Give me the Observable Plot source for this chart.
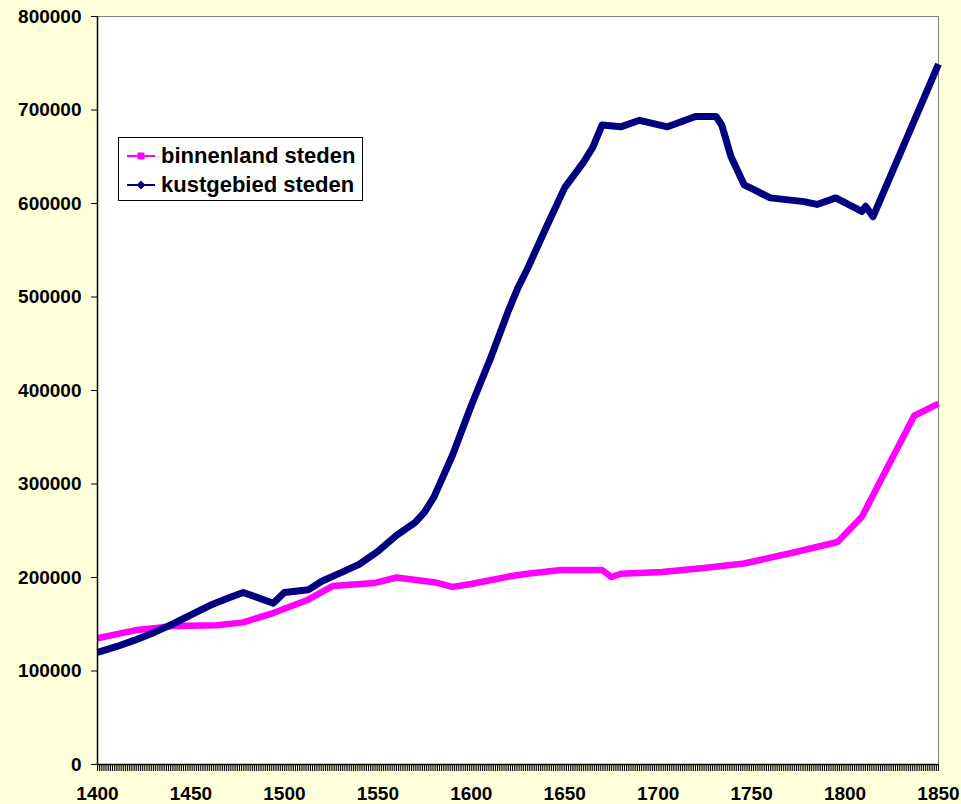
<!DOCTYPE html>
<html>
<head>
<meta charset="utf-8">
<script src="https://cdn.jsdelivr.net/npm/d3@7"></script>
<script src="https://cdn.jsdelivr.net/npm/@observablehq/plot@0.6"></script>
<style>
  html, body { margin: 0; padding: 0; background: #FFFFD9; }
  #wrap { position: relative; width: 961px; height: 804px; background: #FFFFD9; font-family: "Liberation Sans", Arial, sans-serif; }
  #legend { position: absolute; left: 118px; top: 137px; width: 243px; height: 62px; background: #fff; border: 1px solid #000; }
  .row { position: absolute; left: 0; height: 28px; display: flex; align-items: center; font-weight: bold; font-size: 22px; color: #000; white-space: nowrap; }
  .row svg { margin-left: 8px; margin-right: 6px; }
</style>
</head>
<body>
<div id="wrap">
  <div id="chart"></div>
  <div id="legend">
    <div class="row" style="top:4px">
      <svg width="28" height="12"><line x1="0" y1="6" x2="28" y2="6" stroke="#FF00FF" stroke-width="2"/><rect x="10.5" y="2.5" width="7" height="7" fill="#FF00FF"/></svg>binnenland steden
    </div>
    <div class="row" style="top:33px">
      <svg width="28" height="12"><line x1="0" y1="6" x2="28" y2="6" stroke="#000080" stroke-width="2"/><polygon points="14,1.5 18.5,6 14,10.5 9.5,6" fill="#000080"/></svg>kustgebied steden
    </div>
  </div>
</div>
<script>
// binnenland steden (inland cities)
const binnenYears  = [1400, 1420, 1440, 1464, 1478, 1494, 1512, 1526, 1548, 1560, 1580, 1590, 1600, 1610, 1620, 1630, 1648, 1670, 1675, 1680, 1702, 1723, 1746, 1773, 1796, 1809, 1837, 1850];
const binnenValues = [135000, 143500, 148000, 149000, 152000, 162000, 175600, 191000, 194000, 200000, 195000, 190000, 193000, 197000, 201000, 204000, 208000, 208000, 200500, 204000, 206000, 210000, 215000, 227000, 238000, 265000, 373000, 386000];

// kustgebied steden (coastal cities)
const kustYears  = [1400, 1410, 1420, 1430, 1440, 1450, 1460, 1470, 1478, 1494, 1500, 1513, 1520, 1530, 1540, 1550, 1560, 1570, 1575, 1580, 1590, 1600, 1610, 1620, 1625, 1630, 1640, 1650, 1660, 1665, 1670, 1680, 1690, 1705, 1720, 1731, 1734, 1739, 1746, 1751, 1760, 1778, 1785, 1795, 1809, 1811, 1815, 1850];
const kustValues = [120000, 126000, 133000, 141000, 150000, 160000, 170000, 178000, 184000, 172500, 184000, 187000, 196000, 205000, 214000, 228000, 245000, 259000, 270000, 286000, 331000, 384000, 433000, 486000, 510000, 530000, 574000, 617000, 644000, 660000, 684000, 682000, 689000, 682000, 693000, 693000, 684000, 650000, 620000, 615000, 606000, 602000, 599000, 606000, 591500, 597000, 586000, 749000];

const xLabels = [1400, 1450, 1500, 1550, 1600, 1650, 1700, 1750, 1800, 1850];
const yTicks = [0, 100000, 200000, 300000, 400000, 500000, 600000, 700000, 800000];
const allYears = d3.range(1400, 1851);

const binnen = binnenYears.map((y, i) => ({year: y, value: binnenValues[i]}));
const kust = kustYears.map((y, i) => ({year: y, value: kustValues[i]}));

const chart = Plot.plot({
  width: 961,
  height: 804,
  marginLeft: 97,
  marginRight: 23,
  marginTop: 16,
  marginBottom: 40,
  style: {background: "transparent", fontFamily: '"Liberation Sans", Arial, sans-serif', fontSize: "19px", fontWeight: "bold", color: "#000", overflow: "visible"},
  x: {domain: [1400, 1850], axis: null},
  y: {domain: [0, 800000], axis: null},
  marks: [
    Plot.frame({fill: "white", stroke: null}),
    Plot.ruleY([800000], {stroke: "#808080", strokeWidth: 1}),
    Plot.ruleX([1850], {stroke: "#808080", strokeWidth: 1}),
    Plot.line(binnen, {x: "year", y: "value", stroke: "#FF00FF", strokeWidth: 6.5, strokeLinejoin: "round", strokeLinecap: "butt"}),
    Plot.line(kust, {x: "year", y: "value", stroke: "#000080", strokeWidth: 7, strokeLinejoin: "round", strokeLinecap: "butt"}),
    Plot.axisX(allYears, {tickSize: 7, tickFormat: () => "", stroke: "#000", label: null}),
    Plot.axisX(xLabels, {tickSize: 0, tickPadding: 22, tickFormat: d => String(d), fontSize: 19, fontWeight: "bold", label: null}),
    Plot.axisY(yTicks, {tickSize: 6, tickPadding: 10, tickFormat: d => String(d), fontSize: 19, fontWeight: "bold", stroke: "#000", label: null}),
    Plot.ruleX([1400], {stroke: "#000", strokeWidth: 1.5}),
    Plot.ruleY([0], {stroke: "#000", strokeWidth: 1.5})
  ]
});
document.getElementById("chart").appendChild(chart);
</script>
</body>
</html>
